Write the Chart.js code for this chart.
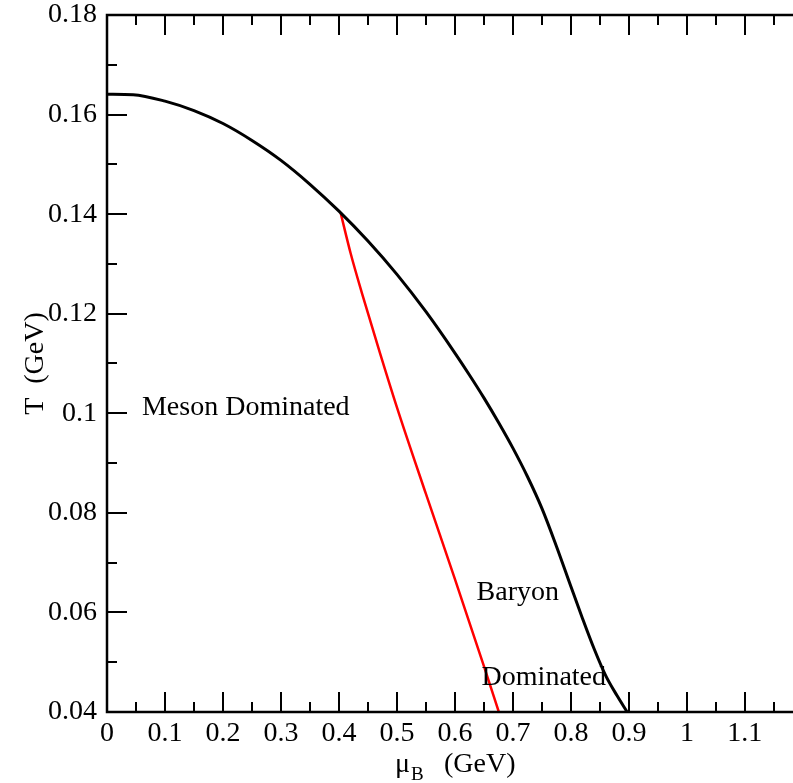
<!DOCTYPE html>
<html>
<head>
<meta charset="utf-8">
<script src="https://cdn.jsdelivr.net/npm/chart.js@4.4.1/dist/chart.umd.min.js"></script>
<style>
  html, body { margin: 0; padding: 0; background: #fff; overflow: hidden; }
  #wrap { width: 793px; height: 783px; }
</style>
</head>
<body>
<div id="wrap"><canvas id="myChart" width="793" height="783"></canvas></div>
<script>
// Curva de fronteira (preta) e linha de separação méson/bárion (vermelha)
const muBoundary = [0, 0.045, 0.1, 0.15, 0.2, 0.25, 0.3, 0.35, 0.4, 0.45, 0.5, 0.55, 0.6, 0.625, 0.65, 0.675, 0.7, 0.725, 0.75, 0.775, 0.8, 0.82, 0.84, 0.86, 0.88, 0.897];
const tBoundary  = [0.1641, 0.1640, 0.1627, 0.1608, 0.1582, 0.1548, 0.1508, 0.1460, 0.1406, 0.1346, 0.1279, 0.1204, 0.1121, 0.1077, 0.1031, 0.0982, 0.0930, 0.0873, 0.0809, 0.0733, 0.0652, 0.0588, 0.0527, 0.0473, 0.0432, 0.0400];

const muSplit = [0.403, 0.42, 0.44, 0.47, 0.5, 0.55, 0.6, 0.65, 0.6757];
const tSplit  = [0.1402, 0.1322, 0.1240, 0.1124, 0.1012, 0.0838, 0.0667, 0.0492, 0.0400];

const xTickValues = [0, 0.1, 0.2, 0.3, 0.4, 0.5, 0.6, 0.7, 0.8, 0.9, 1.0, 1.1];
const xTickLabels = ['0', '0.1', '0.2', '0.3', '0.4', '0.5', '0.6', '0.7', '0.8', '0.9', '1', '1.1'];
const yTickValues = [0.04, 0.06, 0.08, 0.10, 0.12, 0.14, 0.16, 0.18];
const yTickLabels = ['0.04', '0.06', '0.08', '0.1', '0.12', '0.14', '0.16', '0.18'];

const FONT = '"Liberation Serif", "Times New Roman", serif';

function toPoints(xs, ys) {
    return xs.map(function (x, i) { return { x: x, y: ys[i] }; });
}

// Moldura, marcas internas e textos
const framePlugin = {
    id: 'frame',
    afterDraw: function (chart) {
        const ctx = chart.ctx;
        const a = chart.chartArea;
        const xs = chart.scales.x;
        const ys = chart.scales.y;
        ctx.save();
        ctx.strokeStyle = '#000';
        ctx.lineWidth = 2;
        ctx.beginPath();
        for (let i = 0; i <= 23; i++) {
            const v = i * 0.05;
            const px = Math.round(xs.getPixelForValue(v));
            const len = i % 2 === 0 ? 20 : 10;
            ctx.moveTo(px, a.bottom); ctx.lineTo(px, a.bottom - len);
            ctx.moveTo(px, a.top); ctx.lineTo(px, a.top + len);
        }
        for (let j = 0; j <= 14; j++) {
            const v = 0.04 + j * 0.01;
            const py = Math.round(ys.getPixelForValue(v));
            const len = j % 2 === 0 ? 20 : 10;
            ctx.moveTo(a.left, py); ctx.lineTo(a.left + len, py);
        }
        ctx.stroke();

        ctx.lineWidth = 2.5;
        ctx.beginPath();
        ctx.moveTo(a.right + 5, a.top);
        ctx.lineTo(a.left, a.top);
        ctx.lineTo(a.left, a.bottom);
        ctx.lineTo(a.right + 5, a.bottom);
        ctx.stroke();

        // Rótulos das regiões
        ctx.fillStyle = '#000';
        ctx.font = '28px ' + FONT;
        ctx.textAlign = 'left';
        ctx.textBaseline = 'alphabetic';
        ctx.fillText('Meson Dominated', xs.getPixelForValue(0.0603), ys.getPixelForValue(0.0997));
        ctx.fillText('Baryon', xs.getPixelForValue(0.6374), ys.getPixelForValue(0.0625));
        ctx.fillText('Dominated', xs.getPixelForValue(0.646), ys.getPixelForValue(0.04544));

        // Título do eixo x com subscrito
        ctx.fillText('\u03BC', 395, 772);
        ctx.font = '19px ' + FONT;
        ctx.fillText('B', 411, 780);
        ctx.font = '28px ' + FONT;
        ctx.fillText('(GeV)', 444, 772);

        // Título do eixo y
        ctx.translate(43, (a.top + a.bottom) / 2);
        ctx.rotate(-Math.PI / 2);
        ctx.textAlign = 'center';
        ctx.fillText('T  (GeV)', 0, 0);
        ctx.restore();
    }
};

const ctx = document.getElementById('myChart').getContext('2d');
const myChart = new Chart(ctx, {
    type: 'scatter',
    data: {
        datasets: [
            {
                data: toPoints(muBoundary, tBoundary),
                showLine: true,
                borderColor: '#000',
                borderWidth: 3,
                pointRadius: 0,
                cubicInterpolationMode: 'monotone'
            },
            {
                data: toPoints(muSplit, tSplit),
                showLine: true,
                borderColor: '#ff0000',
                borderWidth: 2.5,
                pointRadius: 0,
                cubicInterpolationMode: 'monotone'
            }
        ]
    },
    options: {
        responsive: false,
        animation: false,
        layout: { padding: { top: 15, right: 0, left: 0, bottom: 0 } },
        plugins: {
            legend: { display: false },
            tooltip: { enabled: false }
        },
        scales: {
            x: {
                type: 'linear',
                min: 0,
                max: 1.183,
                grid: { display: false, drawTicks: false },
                border: { display: false },
                afterBuildTicks: function (scale) {
                    scale.ticks = xTickValues.map(function (v) { return { value: v }; });
                },
                afterFit: function (scale) {
                    scale.height = 71;
                    scale.paddingLeft = 0;
                    scale.paddingRight = 0;
                },
                ticks: {
                    autoSkip: false,
                    maxRotation: 0,
                    padding: 5,
                    color: '#000',
                    font: { family: FONT, size: 28 },
                    callback: function (value, index) { return xTickLabels[index]; }
                }
            },
            y: {
                type: 'linear',
                min: 0.04,
                max: 0.18,
                grid: { display: false, drawTicks: false },
                border: { display: false },
                afterBuildTicks: function (scale) {
                    scale.ticks = yTickValues.map(function (v) { return { value: v }; });
                },
                afterFit: function (scale) {
                    scale.width = 107;
                    scale.paddingTop = 0;
                    scale.paddingBottom = 0;
                },
                ticks: {
                    autoSkip: false,
                    padding: 10,
                    color: '#000',
                    font: { family: FONT, size: 28 },
                    callback: function (value, index) { return yTickLabels[index]; }
                }
            }
        }
    },
    plugins: [framePlugin]
});
</script>
</body>
</html>
